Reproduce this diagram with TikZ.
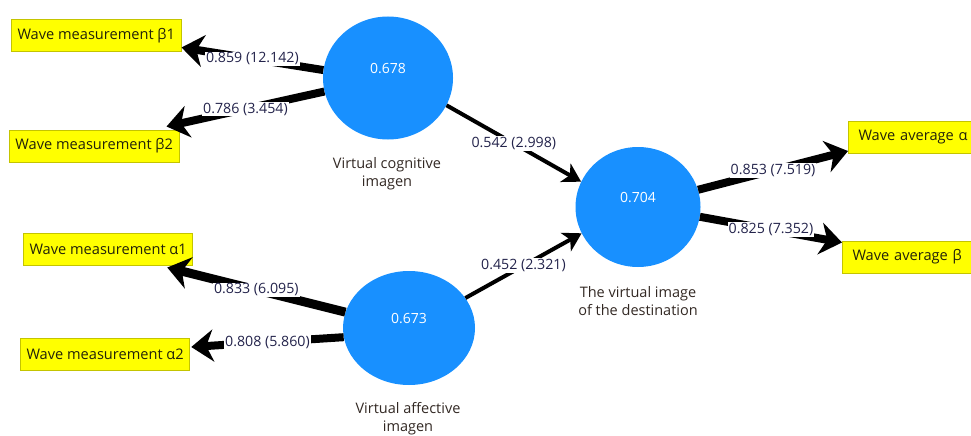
\documentclass[tikz,border=0pt]{standalone}
\usepackage{fontspec}
\setmainfont{Open Sans}
\usetikzlibrary{arrows.meta,shapes.geometric}

\definecolor{lvblue}{RGB}{24,144,255}
\definecolor{mvfill}{RGB}{255,255,0}
\definecolor{mvdraw}{RGB}{196,196,0}
\definecolor{mvtext}{RGB}{34,34,10}
\definecolor{pathtext}{RGB}{35,35,75}
\definecolor{nametext}{RGB}{50,40,35}

\begin{document}
\begin{tikzpicture}[x=1pt,y=-1pt,
  lv/.style={ellipse, fill=lvblue, draw=none, inner sep=0pt},
  lvval/.style={text=white, font=\fontsize{14}{16}\selectfont, inner sep=0pt},
  lvname/.style={text=nametext, align=center, font=\fontsize{14.5}{18}\selectfont, inner sep=0pt},
  mv/.style={fill=mvfill, draw=mvdraw, line width=1pt, text=mvtext,
    minimum height=32pt, inner xsep=6pt, anchor=west,
    font=\fontsize{14.6}{16}\selectfont},
  coef/.style={fill=white, text=pathtext, inner xsep=1pt, inner ysep=1pt,
    font=\fontsize{14.2}{16}\selectfont},
  wide/.style={draw=black, line width=8pt,
    -{Stealth[length=22pt, width=32pt, inset=7pt]}},
  thin/.style={draw=black, line width=4pt,
    -{Stealth[length=18pt, width=21pt, inset=5pt]}}]

\useasboundingbox (0,0) rectangle (971,436);
\clip (0,0) rectangle (971,436);

% latent variables
\node[lv, minimum width=130pt, minimum height=123pt] (cog) at (388,78) {};
\node[lv, minimum width=132pt, minimum height=114pt] (aff) at (409,328) {};
\node[lv, minimum width=125pt, minimum height=120pt] (dest) at (638,207) {};

% indicators
\node[mv] (b1) at (11,36) {Wave measurement β1};
\node[mv] (b2) at (9,146) {Wave measurement β2};
\node[mv] (a1) at (23,249) {Wave measurement α1};
\node[mv] (a2) at (20,354) {Wave measurement α2};
\node[mv, inner xsep=10pt, minimum width=160pt, text width=140pt] (wa) at (848,137.5) {Wave average α};
\node[mv, inner xsep=10pt, minimum width=160pt, text width=140pt] (wb) at (842,257) {Wave average β};

% outer loadings
\draw[wide] (cog.173) -- ([yshift=5pt]b1.south east)
  node[coef, midway] (l1) {0.859 (12.142)};
\draw[wide] (cog.192) -- ([shift={(-13pt,3pt)}]b2.north east)
  node[coef, midway] (l2) {0.786 (3.454)};
\draw[wide, line width=9pt] (aff.166) -- ([shift={(-26pt,-2pt)}]a1.south east)
  node[coef, midway] (l3) {0.833 (6.095)};
\draw[wide] (aff.188) -- ([shift={(1pt,7pt)}]a2.east)
  node[coef, midway] (l4) {0.808 (5.860)};
\draw[wide] (dest.16) -- ([yshift=3pt]wa.south west)
  node[coef, midway] (l5) {0.853 (7.519)};
\draw[wide] (dest.-9) -- ([yshift=-2pt]wb.north west)
  node[coef, midway] (l6) {0.825 (7.352)};

% structural paths
\draw[thin] (cog.-25) -- (dest.156)
  node[coef, midway] (p1) {0.542 (2.998)};
\draw[thin] (aff.28) -- (dest.205)
  node[coef, midway] (p2) {0.452 (2.321)};

% R-square values
\node[lvval] (cogv) at ([yshift=9pt]cog.center) {0.678};
\node[lvval] (affv) at ([yshift=9pt]aff.center) {0.673};
\node[lvval] (destv) at ([yshift=9pt]dest.center) {0.704};

% construct names
\node[lvname] (cogn) at (387,174) {Virtual cognitive\\imagen};
\node[lvname] (destn) at (638,301) {The virtual image\\of the destination};
\node[lvname] (affn) at (408,419) {Virtual affective\\imagen};
\end{tikzpicture}
\end{document}
